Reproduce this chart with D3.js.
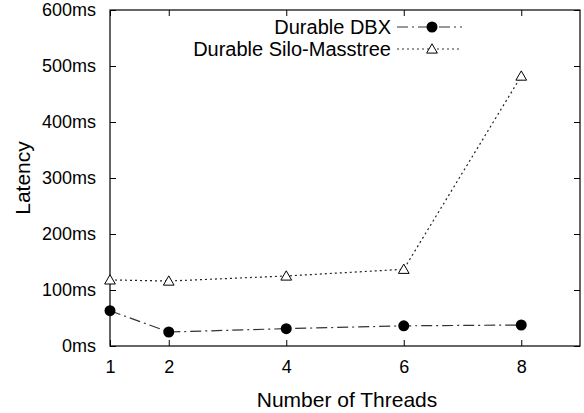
<!DOCTYPE html>
<html>
<head>
<meta charset="utf-8">
<script src="https://d3js.org/d3.v7.min.js"></script>
<style>
  body { margin: 0; background: #fff; }
  text { font-family: "Liberation Sans", Arial, sans-serif; fill: #000; }
  .tick text { font-size: 18px; }
  .label { font-size: 21px; }
  .legend-text { font-size: 20px; }
</style>
</head>
<body>
<script>
// Chart data
const threads = [1, 2, 4, 6, 8];
const dbxLatency = [63, 25, 31, 36, 37.5];
const siloLatency = [118, 116, 125, 137, 482];
const yTicks = [0, 100, 200, 300, 400, 500, 600];
const seriesNames = ["Durable DBX", "Durable Silo-Masstree"];

const svgWidth = 584;
const svgHeight = 413;
const margin = { top: 10, right: 4, bottom: 67, left: 110 };
const chartWidth = svgWidth - margin.left - margin.right;
const chartHeight = svgHeight - margin.top - margin.bottom;

const svg = d3.select("body")
  .append("svg")
  .attr("width", svgWidth)
  .attr("height", svgHeight);

const g = svg.append("g")
  .attr("transform", `translate(${margin.left}, ${margin.top})`);

const x = d3.scaleLinear().domain([1, 9]).range([0, chartWidth]);
const y = d3.scaleLinear().domain([0, 600]).range([chartHeight, 0]);

// ticks pointing inward, mirrored on top / right
const tickLen = 6;
function styleAxis(sel) {
  sel.select(".domain").remove();
  sel.selectAll("line").attr("stroke", "#000");
  sel.attr("font-family", null).attr("font-size", null);
}

g.append("g")
  .attr("transform", `translate(0, ${chartHeight})`)
  .call(d3.axisBottom(x).tickValues(threads).tickSizeInner(-tickLen).tickSizeOuter(0).tickPadding(14))
  .call(styleAxis);

g.append("g")
  .call(d3.axisTop(x).tickValues(threads).tickSizeInner(-tickLen).tickSizeOuter(0).tickFormat(""))
  .call(styleAxis);

g.append("g")
  .call(d3.axisLeft(y).tickValues(yTicks).tickSizeInner(-tickLen).tickSizeOuter(0).tickPadding(14)
    .tickFormat(d => d + "ms"))
  .call(styleAxis);

g.append("g")
  .attr("transform", `translate(${chartWidth}, 0)`)
  .call(d3.axisRight(y).tickValues(yTicks).tickSizeInner(-tickLen).tickSizeOuter(0).tickFormat(""))
  .call(styleAxis);

// frame
g.append("rect")
  .attr("width", chartWidth)
  .attr("height", chartHeight)
  .attr("fill", "none")
  .attr("stroke", "#000")
  .attr("stroke-width", 1.2);

// series
const dbx = threads.map((t, i) => ({ x: t, y: dbxLatency[i] }));
const silo = threads.map((t, i) => ({ x: t, y: siloLatency[i] }));
const line = d3.line().x(d => x(d.x)).y(d => y(d.y));

const dbxDash = "11,4,2,4";
const siloDash = "2,3";
const tri = d3.symbol().type(d3.symbolTriangle).size(50);

g.append("path")
  .datum(silo)
  .attr("d", line)
  .attr("fill", "none")
  .attr("stroke", "#222")
  .attr("stroke-width", 1.2)
  .attr("stroke-dasharray", siloDash);

g.append("path")
  .datum(dbx)
  .attr("d", line)
  .attr("fill", "none")
  .attr("stroke", "#333")
  .attr("stroke-width", 1.2)
  .attr("stroke-dasharray", dbxDash);

g.selectAll(".tri")
  .data(silo)
  .enter()
  .append("path")
  .attr("transform", d => `translate(${x(d.x)}, ${y(d.y) + 1})`)
  .attr("d", tri)
  .attr("fill", "#fff")
  .attr("stroke", "#000")
  .attr("stroke-width", 1);

g.selectAll(".dot")
  .data(dbx)
  .enter()
  .append("circle")
  .attr("cx", d => x(d.x))
  .attr("cy", d => y(d.y))
  .attr("r", 5.5)
  .attr("fill", "#000");

// legend
const legend = svg.append("g");
const legendRows = [
  { name: seriesNames[0], dash: dbxDash, y: 27, marker: "circle" },
  { name: seriesNames[1], dash: siloDash, y: 49, marker: "tri" }
];
legendRows.forEach(r => {
  legend.append("text")
    .attr("class", "legend-text")
    .attr("x", 391)
    .attr("y", r.y + 7)
    .attr("text-anchor", "end")
    .text(r.name);
  legend.append("line")
    .attr("x1", 397).attr("x2", 462)
    .attr("y1", r.y).attr("y2", r.y)
    .attr("stroke", "#333")
    .attr("stroke-width", 1.2)
    .attr("stroke-dasharray", r.dash);
  if (r.marker === "circle") {
    legend.append("circle").attr("cx", 432).attr("cy", r.y).attr("r", 5.5).attr("fill", "#000");
  } else {
    legend.append("path")
      .attr("transform", `translate(432, ${r.y + 1})`)
      .attr("d", tri)
      .attr("fill", "#fff")
      .attr("stroke", "#000");
  }
});

// axis titles
svg.append("text")
  .attr("class", "label")
  .attr("x", 347)
  .attr("y", 407)
  .attr("text-anchor", "middle")
  .text("Number of Threads");

svg.append("text")
  .attr("class", "label")
  .attr("transform", `translate(30, ${margin.top + chartHeight / 2}) rotate(-90)`)
  .attr("text-anchor", "middle")
  .text("Latency");
</script>
</body>
</html>
